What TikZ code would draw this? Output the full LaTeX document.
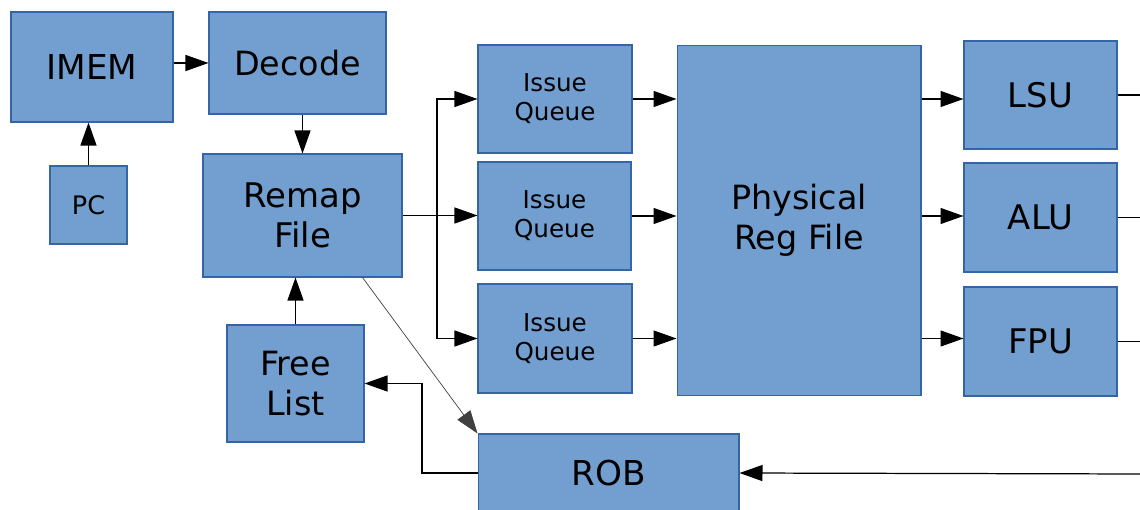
\documentclass[tikz,border=0pt]{standalone}
\usepackage{fontspec}
\setmainfont{DejaVu Sans}
\usetikzlibrary{arrows.meta,calc}
\definecolor{blkfill}{HTML}{729FCF}
\definecolor{blkline}{HTML}{3465A4}

\begin{document}
\begin{tikzpicture}[x=0.02cm,y=-0.02cm,
    blk/.style={draw=blkline,line width=0.6pt,fill=blkfill,inner sep=0pt,align=center},
    arr/.style={line width=0.7pt,-{Triangle[length=0.46cm,width=0.32cm]}},
    wire/.style={line width=0.7pt}]
      \useasboundingbox (0,0) rectangle (1140,510);
      % front end
      \node[blk,minimum width=3.24cm,minimum height=2.2cm,font=\fontsize{19.5}{24}\selectfont] (imem) at (92,67) {IMEM};
      \node[blk,minimum width=3.54cm,minimum height=2.04cm,font=\fontsize{19}{23}\selectfont] (decode) at (297.5,63) {Decode};
      \node[blk,minimum width=1.54cm,minimum height=1.56cm,font=\fontsize{14.5}{16}\selectfont] (pc) at (88.5,205) {PC};
      \node[blk,minimum width=3.98cm,minimum height=2.46cm,font=\fontsize{19.3}{23}\selectfont] (remap) at (302.5,215.5) {Remap\\File};
      \node[blk,minimum width=2.74cm,minimum height=2.34cm,font=\fontsize{19}{23}\selectfont] (free) at (295.5,383.5) {Free\\List};
      % issue queues
      \node[blk,minimum width=3.08cm,minimum height=2.16cm,font=\fontsize{14}{16.5}\selectfont] (iq1) at (555,99) {Issue\\Queue};
      \node[blk,minimum width=3.06cm,minimum height=2.16cm,font=\fontsize{14}{16.5}\selectfont] (iq2) at (554.5,216) {Issue\\Queue};
      \node[blk,minimum width=3.08cm,minimum height=2.18cm,font=\fontsize{14}{16.5}\selectfont] (iq3) at (555,338.5) {Issue\\Queue};
      % register file and units
      \node[blk,minimum width=4.88cm,minimum height=7.02cm,font=\fontsize{19}{22.5}\selectfont] (prf) at (799,220.5) {Physical\\Reg File};
      \node[blk,minimum width=3.06cm,minimum height=2.16cm,font=\fontsize{19.3}{23}\selectfont] (lsu) at (1040.5,95) {LSU};
      \node[blk,minimum width=3.06cm,minimum height=2.18cm,font=\fontsize{19.3}{23}\selectfont] (alu) at (1040.5,217.5) {ALU};
      \node[blk,minimum width=3.06cm,minimum height=2.18cm,font=\fontsize{19.3}{23}\selectfont] (fpu) at (1040.5,341.5) {FPU};
      \node[blk,minimum width=5.22cm,minimum height=1.56cm,font=\fontsize{19.5}{23}\selectfont] (rob) at (608.5,473) {ROB};
      % helper points
      \coordinate (split) at (437,215.5);
      \coordinate (back) at (422,383.5);
      \coordinate (rside) at (1145,474);
      % front end edges
      \draw[arr] (imem.east |- decode.west) -- (decode.west);
      \draw[arr] (pc.north) -- (pc.north |- imem.south);
      \draw[arr] (decode.south -| remap) -- (remap.north);
      \draw[arr] (free.north) -- (free.north |- remap.south);
      % dispatch
      \draw[arr] (remap.east) -- (remap.east -| iq2.west);
      \draw[arr] (split) |- (iq1.west);
      \draw[arr] (split) |- (iq3.west);
      \draw[arr] (iq1.east) -- (iq1.east -| prf.west);
      \draw[arr] (iq2.east) -- (iq2.east -| prf.west);
      \draw[arr] (iq3.east) -- (iq3.east -| prf.west);
      % execute
      \draw[arr] (prf.east |- iq1) -- (iq1 -| lsu.west);
      \draw[arr] (prf.east |- iq2) -- (iq2 -| alu.west);
      \draw[arr] (prf.east |- iq3) -- (iq3 -| fpu.west);
      \draw[wire] (lsu.east) -- (lsu -| rside);
      \draw[wire] (alu.east) -- (alu -| rside);
      \draw[wire] (fpu.east) -- (fpu -| rside);
      % commit
      \draw[arr] (rside) -- (rob.east);
      \draw[arr,line width=0.4pt,black!75] ($(remap.south west)!0.8!(remap.south east)$) -- (rob.north west);
      \draw[arr] (rob.west) -| (back) -- (free.east);
    \end{tikzpicture}
\end{document}
